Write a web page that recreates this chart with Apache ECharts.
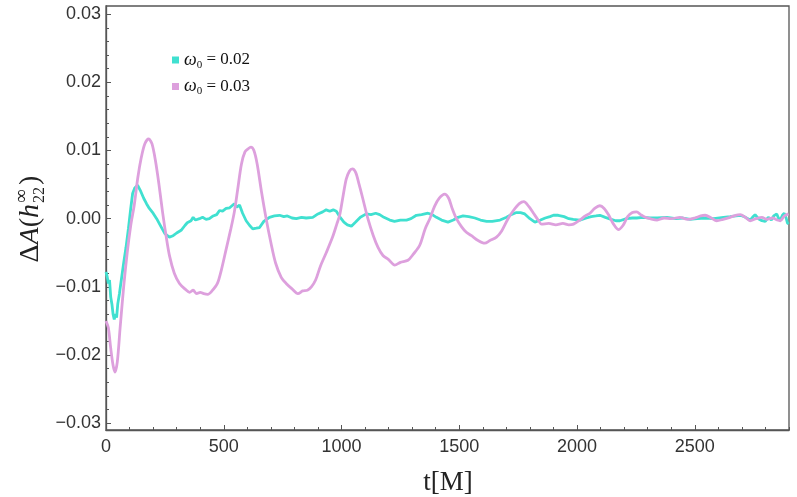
<!DOCTYPE html>
<html>
<head>
<meta charset="utf-8">
<script src="https://cdn.jsdelivr.net/npm/echarts@6/dist/echarts.min.js"></script>
<style>html,body{margin:0;padding:0;background:#fff;}#c{width:797px;height:497px;}</style>
</head>
<body>
<div id="c"></div>
<script>
// ---- data ----
const seriesNames = ['ω0 = 0.02', 'ω0 = 0.03'];
const xTickLabels = [0, 500, 1000, 1500, 2000, 2500];
const yTickLabels = [-0.03, -0.02, -0.01, 0.00, 0.01, 0.02, 0.03];

const tTeal = [0,5,10,15,20,25,30,35,40,45,50,57,65,75,85,95,105,113,122,134,145,160,172,184,200,215,234,250,269,285,300,319,335,345,361,370,380,397,410,425,439,455,470,482,495,510,525,545,555,567,580,595,610,623,638,652,670,694,715,737,755,770,790,808,830,850,878,900,920,935,950,965,978,992,1010,1025,1042,1060,1080,1105,1125,1145,1162,1180,1205,1225,1250,1276,1295,1318,1340,1367,1385,1403,1425,1452,1475,1495,1516,1540,1566,1590,1616,1640,1673,1701,1720,1743,1760,1778,1800,1821,1845,1865,1885,1900,1920,1945,1965,1984,2012,2040,2060,2080,2097,2120,2145,2165,2182,2210,2235,2253,2280,2310,2340,2381,2420,2450,2480,2510,2545,2580,2622,2650,2675,2693,2710,2725,2735,2745,2756,2770,2785,2799,2812,2825,2835,2848,2855,2863,2872,2880,2888,2893,2898];
const vTeal = [-0.0078,-0.0085,-0.0095,-0.0090,-0.0115,-0.0125,-0.0140,-0.0148,-0.0140,-0.0145,-0.0125,-0.0110,-0.0090,-0.0065,-0.0042,-0.0015,0.0015,0.0037,0.0045,0.0049,0.0042,0.0030,0.0022,0.0015,0.0008,0.0000,-0.0012,-0.0022,-0.0027,-0.0025,-0.0021,-0.0017,-0.0010,-0.0006,-0.0003,0.0002,-0.0002,0.0000,0.0002,-0.0001,0.0000,0.0004,0.0006,0.0012,0.0011,0.0015,0.0016,0.0022,0.0017,0.0020,0.0008,-0.0003,-0.0010,-0.0015,-0.0014,-0.0013,-0.0004,0.0002,0.0004,0.0005,0.0003,0.0004,0.0001,0.0000,0.0002,0.0001,0.0002,0.0007,0.0010,0.0013,0.0011,0.0013,0.0011,0.0003,-0.0005,-0.0009,-0.0011,-0.0005,0.0002,0.0007,0.0006,0.0008,0.0006,0.0002,-0.0002,-0.0004,-0.0002,-0.0002,0.0000,0.0005,0.0006,0.0008,0.0006,0.0002,-0.0002,-0.0005,-0.0002,0.0002,0.0004,0.0003,0.0001,-0.0002,-0.0004,-0.0004,-0.0002,0.0002,0.0006,0.0009,0.0009,0.0007,0.0000,-0.0005,-0.0002,0.0001,0.0003,0.0005,0.0005,0.0003,0.0000,-0.0001,-0.0002,0.0001,0.0003,0.0004,0.0005,0.0002,-0.0001,-0.0003,-0.0003,0.0000,0.0001,0.0001,0.0002,0.0001,0.0001,0.0002,0.0000,0.0001,-0.0001,0.0000,0.0001,0.0000,0.0002,0.0003,0.0004,0.0005,0.0003,0.0000,-0.0002,0.0002,0.0006,0.0000,-0.0003,-0.0004,0.0002,-0.0002,0.0004,0.0007,0.0001,-0.0002,0.0005,0.0008,0.0001,-0.0006,-0.0008];

const tPink = [0,10,20,30,38,48,60,75,90,105,120,135,150,165,181,195,210,225,240,255,270,290,312,335,355,370,385,400,415,432,450,473,490,510,530,545,560,575,590,605,615,628,642,660,680,700,720,744,765,790,815,835,855,872,890,910,935,962,980,992,1005,1020,1034,1046,1060,1075,1090,1112,1135,1155,1176,1200,1226,1250,1282,1305,1332,1355,1375,1395,1415,1438,1455,1470,1488,1510,1530,1552,1580,1608,1630,1658,1680,1707,1730,1755,1774,1795,1815,1835,1849,1880,1910,1940,1965,1985,2012,2035,2055,2075,2097,2115,2135,2155,2175,2195,2215,2235,2253,2270,2290,2310,2340,2370,2400,2437,2470,2500,2525,2544,2570,2593,2620,2650,2673,2693,2715,2735,2760,2785,2806,2830,2850,2863,2880,2898];
const vPink = [-0.0150,-0.0160,-0.0190,-0.0215,-0.0225,-0.0210,-0.0160,-0.0100,-0.0050,-0.0010,0.0020,0.0060,0.0090,0.0110,0.0117,0.0110,0.0085,0.0050,0.0010,-0.0025,-0.0055,-0.0080,-0.0095,-0.0103,-0.0108,-0.0105,-0.0110,-0.0108,-0.0110,-0.0111,-0.0106,-0.0095,-0.0075,-0.0045,-0.0015,0.0010,0.0045,0.0080,0.0098,0.0103,0.0105,0.0100,0.0080,0.0040,0.0000,-0.0035,-0.0065,-0.0086,-0.0095,-0.0103,-0.0110,-0.0106,-0.0105,-0.0100,-0.0090,-0.0070,-0.0050,-0.0027,-0.0008,0.0005,0.0030,0.0058,0.0070,0.0073,0.0068,0.0050,0.0030,0.0000,-0.0025,-0.0042,-0.0054,-0.0060,-0.0068,-0.0064,-0.0061,-0.0052,-0.0039,-0.0015,0.0000,0.0018,0.0030,0.0036,0.0030,0.0015,0.0000,-0.0012,-0.0020,-0.0025,-0.0032,-0.0036,-0.0032,-0.0027,-0.0018,0.0000,0.0012,0.0022,0.0025,0.0018,0.0008,-0.0002,-0.0008,-0.0007,-0.0009,-0.0007,-0.0009,-0.0008,-0.0002,0.0004,0.0008,0.0015,0.0019,0.0015,0.0005,-0.0008,-0.0016,-0.0010,0.0003,0.0009,0.0010,0.0006,0.0002,0.0000,-0.0002,0.0001,0.0000,0.0002,-0.0001,0.0001,0.0004,0.0005,0.0001,-0.0003,-0.0001,0.0002,0.0005,0.0006,0.0002,-0.0003,0.0000,0.0002,-0.0001,0.0001,-0.0002,-0.0003,0.0004,0.0007];

// ---- build ----
const zip = (t, v) => t.map((x, i) => [x, v[i]]);
const xMinor = []; for (let k = 0; k <= 29; k++) xMinor.push(k * 100);
const yMinor = []; for (let k = -15; k <= 15; k++) yMinor.push(+(k * 0.002).toFixed(3));

const AX = '#555';
const LBL = '#333';
const SANS = '"Liberation Sans", Arial, sans-serif';
const SERIF = '"Liberation Serif", "DejaVu Serif", serif';

const chart = echarts.init(document.getElementById('c'), null, {renderer: 'canvas'});
const yFmt = v => (v < 0 ? '\u2212' : '') + Math.abs(v).toFixed(2);

chart.setOption({
  animation: false,
  backgroundColor: '#fff',
  grid: {left: 106, right: 8, top: 6, bottom: 67, show: true, borderColor: AX, borderWidth: 1.3, backgroundColor: 'transparent'},
  legend: {
    orient: 'vertical', left: 167, top: 46, itemWidth: 7, itemHeight: 7, itemGap: 7, icon: 'rect',
    data: seriesNames,
    formatter: name => '{i|ω}{s|0}{n| = ' + name.split('= ')[1] + '}',
    textStyle: {
      fontFamily: SERIF, fontSize: 17, color: '#111',
      rich: {
        i: {fontFamily: SERIF, fontStyle: 'italic', fontSize: 18, color: '#111'},
        s: {fontFamily: SERIF, fontSize: 11, color: '#111', padding: [10, 0, 0, 0]},
        n: {fontFamily: SERIF, fontSize: 17, color: '#111'}
      }
    }
  },
  xAxis: [{
    type: 'value', min: 0, max: 2900, gridIndex: 0,
    axisLine: {show: true, onZero: false, lineStyle: {color: AX, width: 1.3}},
    axisTick: {show: true, inside: true, length: 5, lineStyle: {color: AX}, customValues: xTickLabels},
    axisLabel: {show: true, customValues: xTickLabels, color: LBL, fontFamily: SANS, fontSize: 18, margin: 8, formatter: v => String(v)},
    splitLine: {show: false}
  }, {
    type: 'value', min: 0, max: 2900, gridIndex: 0, position: 'bottom',
    axisLine: {show: false, onZero: false},
    axisTick: {show: true, inside: true, length: 3, lineStyle: {color: AX}, customValues: xMinor},
    axisLabel: {show: false},
    splitLine: {show: false}
  }],
  yAxis: [{
    type: 'value', min: -0.031, max: 0.0312, gridIndex: 0,
    axisLine: {show: true, onZero: false, lineStyle: {color: AX, width: 1.3}},
    axisTick: {show: true, inside: true, length: 5, lineStyle: {color: AX}, customValues: yTickLabels},
    axisLabel: {show: true, customValues: yTickLabels, color: LBL, fontFamily: SANS, fontSize: 18, margin: 5, formatter: yFmt},
    splitLine: {show: false}
  }, {
    type: 'value', min: -0.031, max: 0.0312, gridIndex: 0, position: 'left',
    axisLine: {show: false, onZero: false},
    axisTick: {show: true, inside: true, length: 3, lineStyle: {color: AX}, customValues: yMinor},
    axisLabel: {show: false},
    splitLine: {show: false}
  }],
  graphic: [
    {type: 'text', x: 448, y: 469,
     style: {text: 't[M]', fontFamily: SERIF, fontSize: 27, fill: '#222', textAlign: 'center'}},
    {type: 'group', x: 31, y: 218, rotation: Math.PI / 2, children: [
      {type: 'text', x: 14, y: 0, style: {text: '{n|Δ}{i|A}{n|(}{i|h}', textAlign: 'right', textVerticalAlign: 'middle', fill: '#222',
        rich: {n: {fontFamily: SERIF, fontSize: 28, fill: '#222'}, i: {fontFamily: SERIF, fontStyle: 'italic', fontSize: 28, fill: '#222'}}}},
      {type: 'text', x: 15, y: -9, style: {text: '∞', fontFamily: SERIF, fontSize: 19, fill: '#222', textAlign: 'left', textVerticalAlign: 'middle'}},
      {type: 'text', x: 15, y: 9, style: {text: '22', fontFamily: SERIF, fontSize: 16, fill: '#222', textAlign: 'left', textVerticalAlign: 'middle'}},
      {type: 'text', x: 33, y: 0, style: {text: ')', fontFamily: SERIF, fontSize: 28, fill: '#222', textAlign: 'left', textVerticalAlign: 'middle'}}
    ]}
  ],
  series: [
    {name: seriesNames[0], type: 'line', xAxisIndex: 0, yAxisIndex: 0, showSymbol: false, symbol: 'none',
     data: zip(tTeal, vTeal), lineStyle: {color: '#40E0D0', width: 2.8}, itemStyle: {color: '#40E0D0'}, z: 2},
    {name: seriesNames[1], type: 'line', xAxisIndex: 0, yAxisIndex: 0, showSymbol: false, symbol: 'none', smooth: 0.3,
     data: zip(tPink, vPink), lineStyle: {color: '#DDA0DD', width: 2.8}, itemStyle: {color: '#DDA0DD'}, z: 3}
  ]
});
</script>
</body>
</html>
